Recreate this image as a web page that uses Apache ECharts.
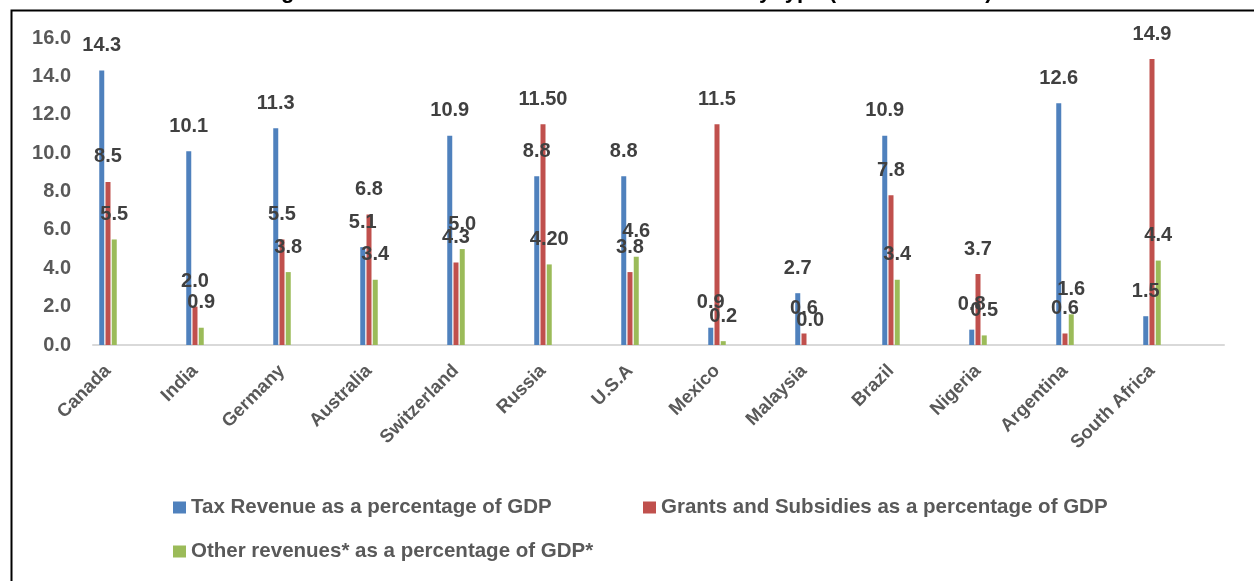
<!DOCTYPE html>
<html>
<head>
<meta charset="utf-8">
<script src="https://cdn.jsdelivr.net/npm/echarts@6/dist/echarts.min.js"></script>
<style>
  html, body { margin: 0; padding: 0; background: #ffffff; }
  #chart { width: 1254px; height: 581px; }
</style>
</head>
<body>
<div id="chart"></div>
<script>
// Sub-national government revenues by type, as a percentage of GDP
const countries = ['Canada', 'India', 'Germany', 'Australia', 'Switzerland', 'Russia', 'U.S.A',
  'Mexico', 'Malaysia', 'Brazil', 'Nigeria', 'Argentina', 'South Africa'];

const taxRevenue = [14.3, 10.1, 11.3, 5.1, 10.9, 8.8, 8.8, 0.9, 2.7, 10.9, 0.8, 12.6, 1.5];
const grantsSubsidies = [8.5, 2.0, 5.5, 6.8, 4.3, 11.5, 3.8, 11.5, 0.6, 7.8, 3.7, 0.6, 14.9];
const otherRevenues = [5.5, 0.9, 3.8, 3.4, 5.0, 4.2, 4.6, 0.2, 0.0, 3.4, 0.5, 1.6, 4.4];

// decimal places shown in each value label
const taxDecimals = [1, 1, 1, 1, 1, 1, 1, 1, 1, 1, 1, 1, 1];
const grantsDecimals = [1, 1, 1, 1, 1, 2, 1, 1, 1, 1, 1, 1, 1];
const otherDecimals = [1, 1, 1, 1, 1, 2, 1, 1, 1, 1, 1, 1, 1];

const yTicks = { min: 0, max: 16, step: 2 };

const seriesNames = [
  'Tax Revenue as a percentage of GDP',
  'Grants and Subsidies as a percentage of GDP',
  'Other revenues* as a percentage of GDP*'
];
const colors = ['#4F81BD', '#C0504D', '#9BBB59'];

const FONT = '"Liberation Sans", Arial, sans-serif';
const GRID_TOP = 38, GRID_BOTTOM = 236;

function barSeries(name, values, decimals, color) {
  return {
    name: name,
    type: 'bar',
    xAxisIndex: 0,
    yAxisIndex: 0,
    data: values,
    barWidth: 5,
    barGap: '25%',
    itemStyle: { color: color },
    label: {
      show: true,
      position: 'top',
      distance: 15,
      color: '#404040',
      fontFamily: FONT,
      fontWeight: 'bold',
      fontSize: 20,
      formatter: p => Number(p.value).toFixed(decimals[p.dataIndex])
    }
  };
}

function legendAt(name, left, top) {
  return {
    data: [name],
    left: left,
    top: top,
    orient: 'horizontal',
    icon: 'rect',
    itemWidth: 13,
    itemHeight: 12,
    itemGap: 6,
    padding: 0,
    textStyle: { color: '#595959', fontFamily: FONT, fontWeight: 'bold', fontSize: 20.5 }
  };
}

const chart = echarts.init(document.getElementById('chart'), null, { renderer: 'canvas' });

chart.setOption({
  backgroundColor: '#ffffff',
  animation: false,
  title: {
    text: 'Figure 5: Sub-national Government Revenues by type (as a % of GDP)',
    left: 'center',
    top: -19,
    padding: 0,
    textStyle: { color: '#000000', fontFamily: FONT, fontWeight: 'bold', fontSize: 22 }
  },
  graphic: [{
    type: 'rect',
    left: 9,
    top: 8,
    shape: { x: 0, y: 0, width: 1300, height: 640 },
    style: { fill: 'none', stroke: '#000000', lineWidth: 2 },
    silent: true
  }],
  legend: [
    legendAt(seriesNames[0], 173, 497),
    legendAt(seriesNames[1], 643, 497),
    legendAt(seriesNames[2], 173, 541)
  ],
  grid: [
    // plotting grid for the bars and category labels
    { left: 64.5, right: 58.5, top: GRID_TOP, bottom: GRID_BOTTOM, containLabel: false },
    // frame grid carrying the value axis labels and the baseline
    { left: 93, right: 30, top: GRID_TOP, bottom: GRID_BOTTOM, containLabel: false }
  ],
  xAxis: [
    {
      type: 'category',
      gridIndex: 0,
      data: countries,
      boundaryGap: true,
      axisLine: { show: false },
      axisTick: { show: false },
      axisLabel: {
        interval: 0,
        rotate: 45,
        margin: 23,
        color: '#595959',
        fontFamily: FONT,
        fontWeight: 'bold',
        fontSize: 18.5
      }
    },
    {
      type: 'category',
      gridIndex: 1,
      data: countries,
      axisLine: { show: true, lineStyle: { color: '#D9D9D9', width: 2 } },
      axisTick: { show: false },
      axisLabel: { show: false }
    }
  ],
  yAxis: [
    {
      type: 'value',
      gridIndex: 0,
      min: yTicks.min,
      max: yTicks.max,
      interval: yTicks.step,
      show: false,
      splitLine: { show: false }
    },
    {
      type: 'value',
      gridIndex: 1,
      min: yTicks.min,
      max: yTicks.max,
      interval: yTicks.step,
      axisLine: { show: false },
      axisTick: { show: false },
      splitLine: { show: false },
      axisLabel: {
        margin: 22,
        color: '#595959',
        fontFamily: FONT,
        fontWeight: 'bold',
        fontSize: 20,
        formatter: v => v.toFixed(1)
      }
    }
  ],
  series: [
    barSeries(seriesNames[0], taxRevenue, taxDecimals, colors[0]),
    barSeries(seriesNames[1], grantsSubsidies, grantsDecimals, colors[1]),
    barSeries(seriesNames[2], otherRevenues, otherDecimals, colors[2])
  ]
});
</script>
</body>
</html>
